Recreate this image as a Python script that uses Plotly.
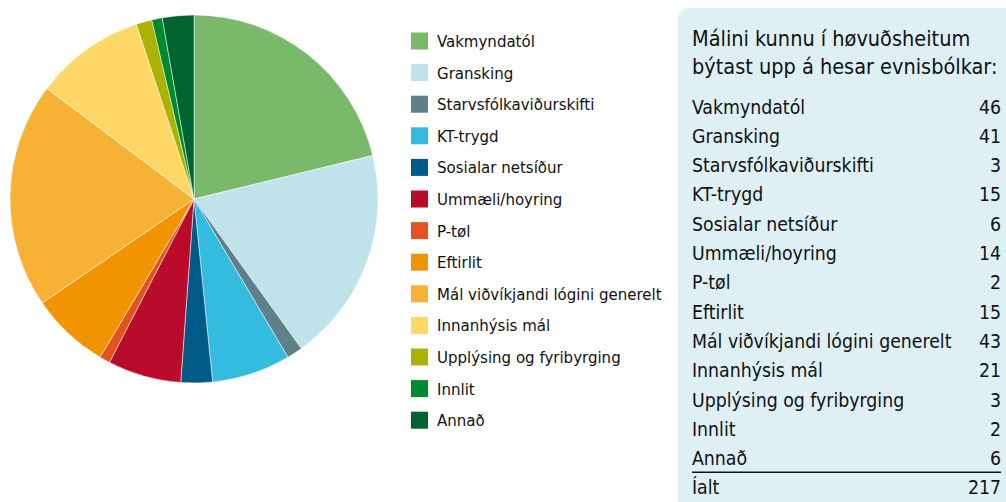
import plotly.graph_objects as go

# ---- data ----
categories = ["Vakmyndatól", "Gransking", "Starvsfólkaviðurskifti", "KT-trygd",
              "Sosialar netsíður", "Ummæli/hoyring", "P-tøl", "Eftirlit",
              "Mál viðvíkjandi lógini generelt", "Innanhýsis mál",
              "Upplýsing og fyribyrging", "Innlit", "Annað"]
counts = [46, 41, 3, 15, 6, 14, 2, 15, 43, 21, 3, 2, 6]
total_label = "Íalt"
title_lines = ["Málini kunnu í høvuðsheitum", "býtast upp á hesar evnisbólkar:"]
colors = ["#79b96a", "#bfe3eb", "#5f7f89", "#33bce0", "#005a87", "#bb0b2b",
          "#e5511f", "#f29300", "#f7b235", "#fed866", "#abb300", "#00892d", "#006430"]

W, H = 1006, 502
FONT = "DejaVu Sans Condensed"

def px(x):
    return x / W

def py(y):
    return 1 - y / H

fig = go.Figure()
fig.add_trace(go.Pie(
    labels=categories, values=counts, sort=False, direction="clockwise", rotation=0,
    marker=dict(colors=colors, line=dict(color="white", width=0.5)),
    textinfo="none", hoverinfo="label+value", showlegend=False,
    domain=dict(x=[px(10), px(378)], y=[py(383), py(15)]),
))

shapes = []
annotations = []

# legend (manual)
leg_y0, leg_dy = 41, 31.6
for i, (lab, col) in enumerate(zip(categories, colors)):
    yc = leg_y0 + i * leg_dy
    shapes.append(dict(type="rect", xref="paper", yref="paper",
                       x0=px(411), x1=px(428), y0=py(yc + 8.5), y1=py(yc - 8.5),
                       fillcolor=col, line=dict(width=0)))
    annotations.append(dict(x=px(435), y=py(yc), xref="paper", yref="paper",
                            text=lab, showarrow=False, xanchor="left", yanchor="middle",
                            font=dict(family=FONT, size=16.7, color="#111111")))

# table panel background with rounded top-left corner
x0, y0, r = 678, 8, 12
path = (f"M {px(x0)},{py(H)} L {px(x0)},{py(y0 + r)} "
        f"Q {px(x0)},{py(y0)} {px(x0 + r)},{py(y0)} "
        f"L {px(W)},{py(y0)} L {px(W)},{py(H)} Z")
shapes.insert(0, dict(type="path", xref="paper", yref="paper", path=path,
                      fillcolor="#dff0f5", line=dict(width=0), layer="below"))

for j, t in enumerate(title_lines):
    annotations.append(dict(x=px(690), y=py(38 + j * 28), xref="paper", yref="paper",
                            text=t, showarrow=False, xanchor="left", yanchor="middle",
                            font=dict(family=FONT, size=21.5, color="#111111")))

row_y0, row_dy = 107, 29.3
rows = list(zip(categories, counts)) + [(total_label, sum(counts))]
for i, (lab, val) in enumerate(rows):
    yc = row_y0 + i * row_dy
    annotations.append(dict(x=px(690), y=py(yc), xref="paper", yref="paper",
                            text=lab, showarrow=False, xanchor="left", yanchor="middle",
                            font=dict(family=FONT, size=19.3, color="#111111")))
    annotations.append(dict(x=px(1003), y=py(yc), xref="paper", yref="paper",
                            text=str(val), showarrow=False, xanchor="right", yanchor="middle",
                            font=dict(family=FONT, size=19.3, color="#111111")))

line_y = row_y0 + (len(categories) - 0.5) * row_dy - 1
shapes.append(dict(type="line", xref="paper", yref="paper",
                   x0=px(692), x1=px(1001), y0=py(line_y), y1=py(line_y),
                   line=dict(color="#111111", width=1.5)))

fig.update_layout(width=W, height=H, margin=dict(l=0, r=0, t=0, b=0),
                  paper_bgcolor="white", plot_bgcolor="white",
                  shapes=shapes, annotations=annotations)
fig.write_html("out.html")
